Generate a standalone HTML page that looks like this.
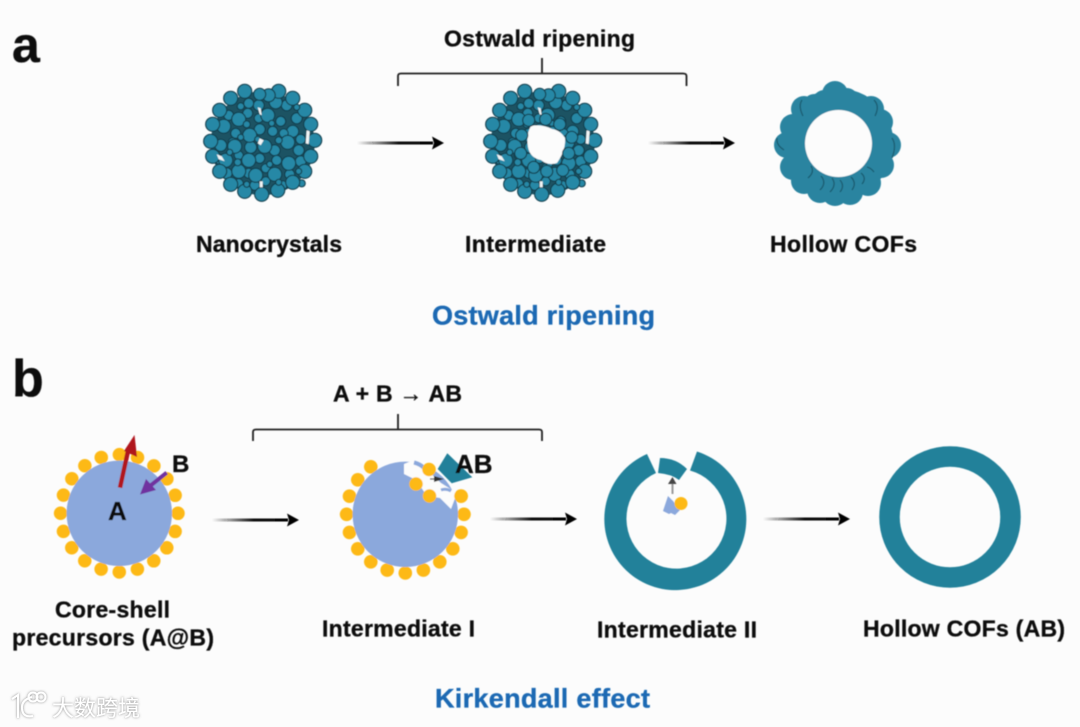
<!DOCTYPE html>
<html><head><meta charset="utf-8">
<style>
html,body{margin:0;padding:0;background:#fcfcfc}
svg{display:block}
text{font-family:"Liberation Sans","Noto Sans CJK SC",sans-serif;font-weight:bold;fill:#111;stroke:#111;stroke-width:.35}
text.blue{fill:#1a69b3;stroke:#1a69b3}
.p circle{fill:#2588a6;stroke:#143f4e;stroke-width:1.2}
.y circle{fill:#fdb913}
</style></head>
<body>
<svg width="1080" height="727" viewBox="0 0 1080 727" xmlns="http://www.w3.org/2000/svg">
<defs>
<linearGradient id="fade"><stop offset="0" stop-color="#111" stop-opacity="0"/><stop offset=".55" stop-color="#111"/><stop offset="1" stop-color="#000"/></linearGradient>
<filter id="soft" x="-5%" y="-5%" width="110%" height="110%"><feGaussianBlur stdDeviation=".55"/></filter>
<filter id="wm" x="-20%" y="-20%" width="140%" height="140%"><feDropShadow dx="0" dy="0" stdDeviation="1.4" flood-color="#777" flood-opacity=".9"/></filter>
<g id="arrow"><rect x="0" y="-1.5" width="76" height="3" fill="url(#fade)"/><path d="M75 -6.5L87 0L75 6.5L77 0Z" fill="#000"/></g>
<g id="cluster">
<circle r="52" fill="#1a5364"/>
<g class="p">
<circle cx="-4" cy="-38" r="5.500"/><circle cx="-14" cy="-40" r="5"/><circle cx="24" cy="-38" r="5.500"/><circle cx="34" cy="-25" r="5.500"/><circle cx="-34" cy="-28" r="5"/><circle cx="-15" cy="-30" r="5"/><circle cx="-4" cy="-25" r="4.500"/><circle cx="18" cy="-22" r="5"/><circle cx="30" cy="-12" r="6"/><circle cx="-27" cy="-10" r="5"/><circle cx="-3" cy="-14" r="5.500"/><circle cx="10" cy="-12" r="5"/><circle cx="21" cy="-10" r="4.500"/><circle cx="38" cy="-4" r="5"/><circle cx="-42" cy="2" r="6"/><circle cx="-30" cy="-1" r="4.500"/><circle cx="-12" cy="4" r="6"/><circle cx="12" cy="7" r="5.500"/><circle cx="36" cy="7" r="5.500"/><circle cx="-43" cy="16" r="5"/><circle cx="-24" cy="12" r="4.500"/><circle cx="-3" cy="15" r="5"/><circle cx="14" cy="17" r="5"/><circle cx="38" cy="18" r="5.500"/><circle cx="-36" cy="30" r="5.500"/><circle cx="-14" cy="30" r="5"/><circle cx="3" cy="25" r="4.500"/><circle cx="27" cy="31" r="5"/><circle cx="-24" cy="40" r="4.500"/><circle cx="-8" cy="42" r="5"/><circle cx="3" cy="38" r="4.500"/><circle cx="20" cy="42" r="4.500"/><circle cx="39" cy="40" r="3.500"/>
<circle cx="-39" cy="-17" r="7"/><circle cx="-24" cy="-24" r="7"/><circle cx="5" cy="-28" r="7"/><circle cx="13" cy="-41" r="6.500"/><circle cx="-13" cy="-8" r="7"/><circle cx="-28" cy="3" r="7"/><circle cx="-37" cy="17" r="7"/><circle cx="-14" cy="17" r="7"/><circle cx="2" cy="3" r="7"/><circle cx="25" cy="-1" r="7"/><circle cx="26" cy="20" r="7"/><circle cx="12" cy="31" r="7"/><circle cx="-7" cy="32" r="7"/><circle cx="-24" cy="28" r="7"/>
<circle cx="-18" cy="-52" r="7"/><circle cx="-32" cy="-45" r="7"/><circle cx="-43" cy="-33" r="7"/><circle cx="-50" cy="-19" r="7"/><circle cx="-52" cy="-2" r="7"/><circle cx="-50" cy="13" r="7"/><circle cx="-43" cy="28" r="7"/><circle cx="-32" cy="41" r="7"/><circle cx="-18" cy="48" r="7"/><circle cx="-1" cy="51" r="7"/><circle cx="15" cy="47" r="7"/><circle cx="30" cy="39" r="7"/><circle cx="42" cy="28" r="7"/><circle cx="48" cy="13" r="7"/><circle cx="52" cy="-3" r="7"/><circle cx="48" cy="-19" r="7"/><circle cx="42" cy="-33" r="7"/><circle cx="30" cy="-45" r="7"/><circle cx="16" cy="-52" r="7"/><circle cx="6" cy="-48" r="6.500"/><circle cx="-3" cy="-49" r="6"/>
<circle cx="-22" cy="-37" r="3.500"/><circle cx="9" cy="-20" r="3"/><circle cx="-16" cy="-19" r="3.500"/><circle cx="16" cy="-3" r="3.500"/><circle cx="-22" cy="-6" r="3"/><circle cx="-5" cy="-4" r="3"/><circle cx="7" cy="21" r="3"/><circle cx="-25" cy="19" r="3.500"/><circle cx="-33" cy="9" r="3"/><circle cx="34" cy="-36" r="3"/><circle cx="16" cy="39" r="3"/><circle cx="-16" cy="41" r="3"/><circle cx="36" cy="28" r="3"/>
</g>
<g fill="#f4f6f6"><path d="M-5 -36l3 1l1 7l-2 -1z"/><path d="M44 -13l3 1l-1 13l-3 -1z"/><path d="M-46 11l5 2l3 5l-6 -2z"/><path d="M-3 -5l4 2l-3 5l-3 -2z"/><path d="M-3 38l3 0l0 6l-3 0z"/></g>
</g>
</defs>

<rect width="1080" height="727" fill="#fcfcfc"/>
<g filter="url(#soft)">

<!-- Panel a -->
<use href="#cluster" x="262.7" y="143.3"/>
<use href="#cluster" x="542.7" y="143.3"/>
<path d="M531 126Q542 124 552 129Q560 130 565 138Q566 150 557 163Q548 166 541 160Q530 158 528 147Q526 134 531 126Z" fill="#fcfcfc"/>
<g class="p" transform="translate(542.7 143.3)">
<circle cx="-14" cy="-23" r="6"/><circle cx="3" cy="-24" r="6"/><circle cx="17" cy="-19" r="6"/><circle cx="29" cy="-6" r="6"/><circle cx="26" cy="10" r="6"/><circle cx="20" cy="27" r="6"/><circle cx="4" cy="28" r="6"/><circle cx="-9" cy="24" r="6"/><circle cx="-22" cy="10" r="6"/><circle cx="-21" cy="-8" r="6"/>
</g>
<use href="#arrow" x="357" y="143"/>
<use href="#arrow" x="648" y="143"/>
<path d="M398 86V76Q398 73.500 401 73.500H683Q686.500 73.500 686.500 76V86M542 73.500V58" fill="none" stroke="#222" stroke-width="1.800"/>

<!-- Hollow COF a -->
<g fill="#2a84a0">
<circle cx="838.500" cy="143.500" r="44" fill="none" stroke="#2a84a0" stroke-width="22"/>
<circle cx="835" cy="94" r="13"/><circle cx="824" cy="101" r="11"/><circle cx="847" cy="99" r="11"/><circle cx="804" cy="109" r="13"/><circle cx="871" cy="109" r="13"/><circle cx="793" cy="127" r="13"/><circle cx="787" cy="145" r="13"/><circle cx="793" cy="167" r="13"/><circle cx="804" cy="181" r="13"/><circle cx="820" cy="190" r="13"/><circle cx="835" cy="193" r="13"/><circle cx="850" cy="192" r="13"/><circle cx="868" cy="183" r="13"/><circle cx="881" cy="165" r="13"/><circle cx="888" cy="145" r="13"/><circle cx="880" cy="122" r="13"/><circle cx="814" cy="104" r="10"/><circle cx="860" cy="104" r="10"/>
</g>
<g fill="none" stroke="#1a5b70" stroke-width="1.300">
<path d="M802 100Q798 106 803 116M874 100Q880 106 875 116M777 138Q776 145 784 150M892 138Q897 145 892 158M820 190Q827 183 821 176M830 192Q837 185 832 178M840 192Q845 186 840 180M852 190Q857 183 851 177M862 184Q867 178 861 173M808 178Q815 172 811 166M874 172Q871 168 867 167"/>
</g>
<circle cx="838.500" cy="143.500" r="33.500" fill="#fcfcfc"/>

<!-- Panel b -->
<path d="M253 441V432Q253 429.500 256 429.500H539Q542 429.500 542 432V441M398 429.500V414" fill="none" stroke="#222" stroke-width="1.800"/>

<!-- Core shell -->
<circle cx="119.300" cy="513.300" r="58.700" fill="none" stroke="#fdb913" stroke-width="13.500" stroke-linecap="round" stroke-dasharray="0 18.440"/>
<circle cx="119.300" cy="513.300" r="52.700" fill="#8ba8dc"/>
<path d="M120 487.700L128 451" stroke="#b0121f" stroke-width="4.500"/>
<path d="M134.500 435L137 457L124 451Z" fill="#b0121f"/>
<path d="M166.700 472.700L150 486" stroke="#7030a0" stroke-width="4"/>
<path d="M140 494.500L146 479L156 490Z" fill="#7030a0"/>

<!-- Intermediate I -->
<g class="y" transform="translate(405.300 514.300)">
<circle cx="58.700" cy="0" r="6.800"/><circle cx="55.800" cy="18.100" r="6.800"/><circle cx="47.500" cy="34.500" r="6.800"/><circle cx="34.500" cy="47.500" r="6.800"/><circle cx="18.100" cy="55.800" r="6.800"/><circle cx="0" cy="58.700" r="6.800"/><circle cx="-18.100" cy="55.800" r="6.800"/><circle cx="-34.500" cy="47.500" r="6.800"/><circle cx="-47.500" cy="34.500" r="6.800"/><circle cx="-55.800" cy="18.100" r="6.800"/><circle cx="-58.700" cy="0" r="6.800"/><circle cx="-55.800" cy="-18.100" r="6.800"/><circle cx="-47.500" cy="-34.500" r="6.800"/><circle cx="-34.500" cy="-47.500" r="6.800"/><circle cx="55.800" cy="-18.100" r="6.800"/>
</g>
<circle cx="405.300" cy="514.300" r="52.700" fill="#8ba8dc"/>
<path d="M404 464L414 460L427 470L441 483L457 493L451 509L440 498L427 496L416 480L404 474Z" fill="#fcfcfc"/>
<path d="M414 462.500Q420 464 424 468" fill="none" stroke="#8ba8dc" stroke-width="4"/>
<path d="M441 490Q446 488 451 491" fill="none" stroke="#8ba8dc" stroke-width="3"/>
<g class="y"><circle cx="429" cy="469.500" r="6.800"/><circle cx="416" cy="484" r="6.800"/><circle cx="429.500" cy="496" r="6.800"/><circle cx="461" cy="496" r="6.800"/></g>
<path d="M430 479L436 479" stroke="#444" stroke-width="1.200"/><path d="M434 476L444 479L434 482Z" fill="#333"/>
<path d="M447.300 453.300L472.300 477.300L451.700 483.300L437.700 469Z" fill="#22809a"/>

<!-- Intermediate II -->
<path d="M647 454A71 71 0 1 0 697 451.500L690 470.500A50 50 0 1 1 656 473Z" fill="#22819a"/>
<path d="M660 458Q676 458 687 469L679 480Q671 474 658 473Z" fill="#22819a"/>
<path d="M672.500 494V482" stroke="#999" stroke-width="2"/><path d="M668 484L672.500 477L676.500 484Z" fill="#444"/>
<path d="M668 496L673 501L680 510L675 515L671 513L669 514L663 511Z" fill="#8ba8dc"/>
<circle cx="681" cy="503.500" r="6.500" fill="#fdb913"/>

<!-- Hollow COF b -->
<circle cx="950" cy="517" r="60.500" fill="none" stroke="#22819a" stroke-width="20.500"/>

<use href="#arrow" x="212" y="520"/>
<use href="#arrow" x="490" y="519"/>
<use href="#arrow" x="763" y="519"/>

<!-- Labels -->
<text x="12" y="62" font-size="50">a</text>
<text x="12" y="396" font-size="52">b</text>
<text x="444" y="46.500" font-size="23" textLength="191">Ostwald ripening</text>
<text x="196" y="251.800" font-size="23" textLength="146">Nanocrystals</text>
<text x="465" y="251.800" font-size="23" textLength="141">Intermediate</text>
<text x="770" y="251.800" font-size="23" textLength="147">Hollow COFs</text>
<text x="432" y="324.500" font-size="27" textLength="223" class="blue">Ostwald ripening</text>
<text x="333" y="401.500" font-size="23" textLength="129">A + B → AB</text>
<text x="172" y="472" font-size="24">B</text>
<text x="108" y="520" font-size="26">A</text>
<text x="455" y="473" font-size="26">AB</text>
<text x="55" y="617.500" font-size="23" textLength="115">Core-shell</text>
<text x="12" y="645.500" font-size="23" textLength="202">precursors (A@B)</text>
<text x="322" y="636.500" font-size="23" textLength="153">Intermediate I</text>
<text x="597" y="637.500" font-size="23" textLength="160">Intermediate II</text>
<text x="863" y="636.500" font-size="23" textLength="202">Hollow COFs (AB)</text>
<text x="435" y="707.500" font-size="27" textLength="215" class="blue">Kirkendall effect</text>
</g>

<!-- Watermark -->
<g filter="url(#wm)">
<g fill="none" stroke="#fff" stroke-width="2">
<path d="M12 699L18 695V718M32 697Q21 700 22 709Q23 718 33 716"/>
<circle cx="33" cy="697" r="4.500"/><circle cx="41" cy="697" r="4.500"/>
</g>
<text x="52" y="716" font-size="22" textLength="88" style="fill:#fff;stroke:none;font-weight:normal">大数跨境</text>
</g>
</svg>
</body></html>
